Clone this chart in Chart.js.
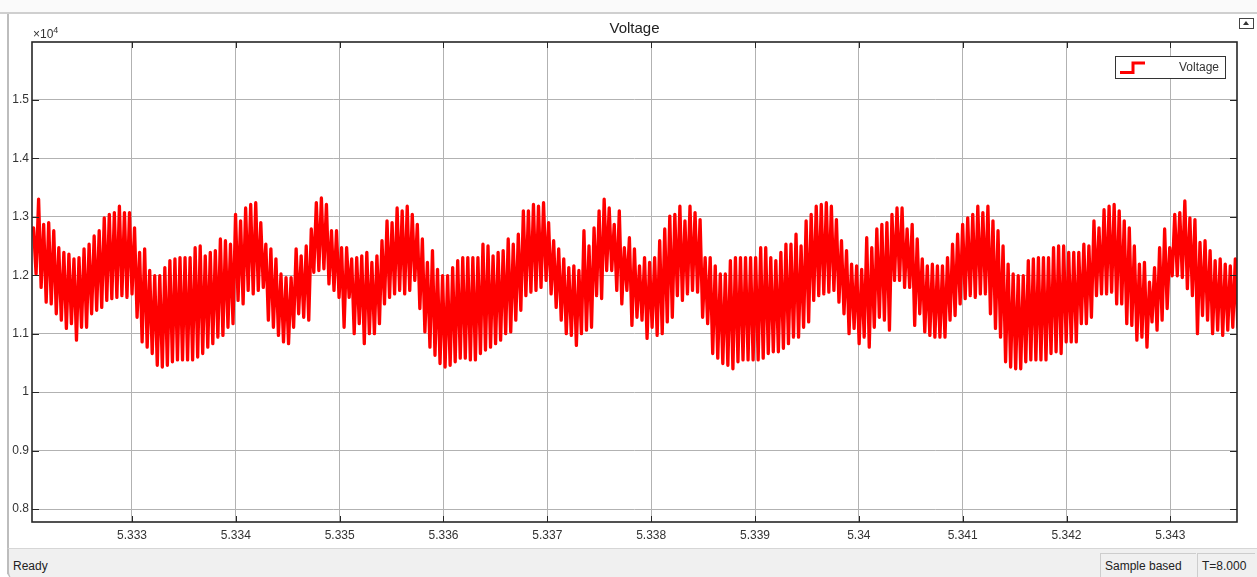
<!DOCTYPE html>
<html>
<head>
<meta charset="utf-8">
<title>Voltage</title>
<script src="https://cdn.jsdelivr.net/npm/chart.js@4.4.1/dist/chart.umd.min.js"></script>
<style>
  html, body { margin: 0; padding: 0; background: #fff; }
  body { width: 1257px; height: 577px; position: relative; overflow: hidden;
         font-family: "Liberation Sans", Arial, sans-serif; color: #222; }
  #wrap { position: absolute; left: 0; top: 0; width: 1257px; height: 548px; }
  #topbar { position: absolute; left: 0; top: 0; width: 1257px; height: 12px;
            background: #fafafa; border-bottom: 2px solid #cfcfcf; z-index: 2; }
  #edge { position: absolute; left: 7px; top: 14px; width: 2px; height: 560px;
          background: #bdbdbd; z-index: 2; }
  #exp { position: absolute; left: 33px; top: 25px; font-size: 12px; color: #333; z-index: 2; }
  #exp sup { font-size: 9px; }
  #undock { position: absolute; left: 1239px; top: 18px; width: 13px; height: 9px;
            border: 1px solid #444; background: #fff; z-index: 2; }
  #undock::after { content: ""; position: absolute; left: 3px; top: 2px;
                   border-left: 3px solid transparent; border-right: 3px solid transparent;
                   border-bottom: 4px solid #333; }
  #status { position: absolute; left: 7px; top: 548px; width: 1250px; height: 29px;
            background: #f0f0f0; border-top: 1px solid #d6d6d6; border-left: 2px solid #bdbdbd;
            border-bottom-left-radius: 6px; font-size: 12px; z-index: 2; }
  #ready { position: absolute; left: 4px; top: 10px; }
  .cell { position: absolute; top: 4px; height: 24px; line-height: 24px; padding-left: 4px;
          border-left: 1px solid #cdcdcd; border-top: 1px solid #cdcdcd; box-sizing: border-box; }
  #sample { left: 1091px; width: 96px; }
  #tcell { left: 1188px; width: 58px; }
</style>
</head>
<body>
<div id="wrap"><canvas id="scope" width="1257" height="548"></canvas></div>
<div id="topbar"></div>
<div id="edge"></div>
<span id="exp">&times;10<sup>4</sup></span>
<div id="undock"></div>
<div id="status">
  <span id="ready">Ready</span>
  <span class="cell" id="sample">Sample based</span>
  <span class="cell" id="tcell">T=8.000</span>
</div>

<script>
// === Оси ===
const chartTitle = 'Voltage';
const xMin = 5.332037, xMax = 5.343642;
const yMin = 7779, yMax = 15988;
const xTicks = [5.333, 5.334, 5.335, 5.336, 5.337, 5.338, 5.339, 5.340, 5.341, 5.342, 5.343];
const xTickLabels = ['5.333', '5.334', '5.335', '5.336', '5.337', '5.338', '5.339', '5.34', '5.341', '5.342', '5.343'];
const yTicks = [8000, 9000, 10000, 11000, 12000, 13000, 14000, 15000];

// === Сигнал: шаг дискретизации и огибающие (В), по одному значению на период ===
const t0 = 5.332052, dt = 0.00004863;

const voltageHigh = [
  12810, 13300, 12870, 12900, 12760, 12470, 12390, 12360, 12280, 12300,
  12450, 12530, 12670, 12760, 12980, 13040, 13070, 13180, 13070, 13070,
  12810, 12390, 12450, 12080, 11990, 11990, 12130, 12250, 12280, 12300,
  12300, 12300, 12470, 12500, 12330, 12390, 12420, 12620, 12590, 12530,
  13040, 12930, 13150, 13210, 13240, 12900, 12530, 12450, 12280, 12020,
  11960, 11960, 12450, 12330,
  12500, 12790, 13240, 13320, 13210, 12760, 12760, 12470, 12470, 12280,
  12300, 12330, 12390, 12220, 12330, 12590, 12930, 12900, 13150, 13100,
  13180, 13040, 12870, 12620, 12220, 12420, 12100, 11990, 11990, 12130,
  12250, 12300, 12300, 12300, 12300, 12530, 12500, 12330, 12390, 12420,
  12620, 12530, 12700, 13100, 13100, 13210, 13180, 13240, 12900, 12590,
  12450, 12280, 12130, 12160, 12080, 12760, 12500, 12810,
  13100, 13300, 13150, 12870, 13100, 12470, 12640, 12450, 12160, 12300,
  12220, 12300, 12590, 12790, 13010, 13040, 13180, 12930, 13180, 13070,
  12950, 12300, 12300, 12160, 12020, 12020, 12250, 12300, 12300, 12300,
  12300, 12300, 12470, 12470, 12300, 12250, 12390, 12530, 12530, 12700,
  12500, 12930, 13040, 13180, 13210, 13240, 13180, 12950, 12590, 12420,
  12190, 12160, 12100, 12640, 12470, 12790, 12870, 12900, 13040, 13150,
  13150, 12790, 12870, 12620, 12280, 12160, 12190, 12160, 12160, 12300,
  12530, 12700, 12870, 12980, 13040, 13180, 13070, 13180, 12930, 12760,
  12500, 12190, 12020, 11990, 11990, 12250, 12280, 12300, 12300, 12300,
  12470, 12500, 12500, 12390, 12390, 12390, 12530, 12500, 12930, 12810,
  13120, 13180, 13210, 13100, 12930, 12810, 12500, 12190, 12220, 11880,
  12130, 12470, 12790, 12470, 13040, 13070, 13270, 12980, 12950, 12560,
  12590, 12420, 12250, 12280, 12190, 12160, 12280
];

const voltageLow = [
  12020, 11790, 11540, 11510, 11340, 11230, 11090, 11170, 10890, 11110,
  11110, 11340, 11400, 11450, 11570, 11600, 11620, 11650, 11620, 11680,
  11280, 10860, 10770, 10660, 10460, 10430, 10460, 10520, 10550, 10550,
  10550, 10550, 10600, 10660, 10770, 10830, 10940, 10970, 11110, 11170,
  11570, 11510, 11740, 11680, 11740, 11790, 11230, 11110, 10970, 10860,
  10830, 11110, 11340, 11280,
  11230, 12050, 12080, 12110, 11850, 11740, 11620, 11110, 11620, 11000,
  11170, 10830, 11000, 11000, 11170, 11510, 11620, 11680, 11740, 11680,
  11740, 11910, 11430, 11030, 10770, 10630, 10490, 10430, 10460, 10520,
  10580, 10580, 10550, 10550, 10660, 10720, 10770, 10830, 10890, 11000,
  11030, 11230, 11400, 11650, 11710, 11740, 11790, 11910, 11680, 11450,
  11230, 11000, 10970, 10800, 11000, 11060, 11110, 11650,
  11600, 12080, 12080, 11740, 11510, 11740, 11140, 11280, 11230, 10920,
  11110, 10970, 11000, 11200, 11280, 11650, 11570, 11680, 11740, 11710,
  11280, 11170, 10660, 10580, 10490, 10460, 10400, 10520, 10550, 10550,
  10550, 10550, 10580, 10660, 10690, 10690, 10750, 10830, 10940, 10940,
  11110, 11200, 11570, 11650, 11680, 11710, 11740, 11540, 11340, 11000,
  11090, 10830, 10940, 10770, 11110, 11280, 11230, 11060, 11910, 11910,
  11790, 11790, 11140, 11340, 11030, 10970, 10940, 10940, 10940, 11230,
  11310, 11510, 11600, 11650, 11620, 11680, 11680, 11340, 11090, 10940,
  10520, 10430, 10400, 10400, 10520, 10550, 10550, 10550, 10550, 10660,
  10690, 10660, 10860, 10860, 10860, 11170, 11170, 11280, 11650, 11680,
  11680, 11710, 11510, 11510, 11170, 11140, 10890, 10940, 10770, 11200,
  11060, 11230, 11430, 11990, 11990, 11960, 11770, 11650, 11000, 11310,
  11230, 11000, 11060, 10970, 11060, 11110, 11110
];

// верх и низ каждого периода по очереди
const points = [];
voltageHigh.forEach((v, i) => {
  points.push({ x: t0 + i * dt, y: v });
  points.push({ x: t0 + (i + 0.5) * dt, y: voltageLow[i] });
});

// === Рамка осей, внутренние засечки, заголовок и легенда в стиле Scope ===
const scopeFrame = {
  id: 'scopeFrame',
  afterDraw(chart) {
    const { ctx, chartArea: a, scales } = chart;
    ctx.save();
    ctx.strokeStyle = '#262626';
    ctx.lineWidth = 1;
    ctx.beginPath();
    xTicks.forEach(v => {
      const px = Math.round(scales.x.getPixelForValue(v)) + 0.5;
      ctx.moveTo(px, a.bottom); ctx.lineTo(px, a.bottom - 6);
      ctx.moveTo(px, a.top); ctx.lineTo(px, a.top + 6);
    });
    yTicks.forEach(v => {
      const py = Math.round(scales.y.getPixelForValue(v)) + 0.5;
      ctx.moveTo(a.left, py); ctx.lineTo(a.left + 7, py);
      ctx.moveTo(a.right, py); ctx.lineTo(a.right - 7, py);
    });
    ctx.stroke();
    ctx.lineWidth = 1.6;
    ctx.strokeRect(a.left, a.top, a.right - a.left, a.bottom - a.top);

    // заголовок по центру области построения
    ctx.fillStyle = '#222';
    ctx.font = '15px "Liberation Sans", Arial, sans-serif';
    ctx.textAlign = 'center';
    ctx.textBaseline = 'middle';
    ctx.fillText(chartTitle, (a.left + a.right) / 2, a.top - 13);

    // легенда
    const w = 110, h = 22;
    const lx = a.right - 12 - w, ly = a.top + 14;
    ctx.fillStyle = '#fff';
    ctx.fillRect(lx, ly, w, h);
    ctx.lineWidth = 1;
    ctx.strokeStyle = '#333';
    ctx.strokeRect(lx + 0.5, ly + 0.5, w, h);
    ctx.strokeStyle = '#ff0000';
    ctx.lineWidth = 3;
    ctx.beginPath();
    ctx.moveTo(lx + 5, ly + 16.5);
    ctx.lineTo(lx + 18, ly + 16.5);
    ctx.lineTo(lx + 18, ly + 7);
    ctx.lineTo(lx + 30, ly + 7);
    ctx.stroke();
    ctx.fillStyle = '#333';
    ctx.font = '12px "Liberation Sans", Arial, sans-serif';
    ctx.textAlign = 'right';
    ctx.fillText(chart.data.datasets[0].label, lx + w - 6, ly + h / 2 + 1);
    ctx.restore();
  }
};

Chart.defaults.font.family = '"Liberation Sans", Arial, sans-serif';
Chart.defaults.font.size = 12;
Chart.defaults.color = '#333';

new Chart(document.getElementById('scope'), {
  type: 'line',
  data: {
    datasets: [{
      label: 'Voltage',
      data: points,
      borderColor: '#ff0000',
      borderWidth: 3.3,
      borderJoinStyle: 'round',
      borderCapStyle: 'round',
      pointRadius: 0,
      tension: 0,
      fill: false
    }]
  },
  options: {
    responsive: false,
    animation: false,
    events: [],
    layout: { padding: { top: 42, right: 20, bottom: 0, left: 0 } },
    plugins: {
      legend: { display: false },
      tooltip: { enabled: false },
      title: { display: false }
    },
    scales: {
      x: {
        type: 'linear',
        min: xMin,
        max: xMax,
        afterFit: s => { s.height = 26; },
        afterBuildTicks: s => { s.ticks = xTicks.map(v => ({ value: v })); },
        grid: { color: '#b2b2b2', drawTicks: false },
        border: { display: false },
        ticks: {
          padding: 6,
          maxRotation: 0,
          autoSkip: false,
          callback: v => xTickLabels[xTicks.findIndex(t => Math.abs(t - v) < 1e-7)]
        }
      },
      y: {
        type: 'linear',
        min: yMin,
        max: yMax,
        afterFit: s => { s.width = 32; },
        afterBuildTicks: s => { s.ticks = yTicks.map(v => ({ value: v })); },
        grid: { color: '#b2b2b2', drawTicks: false },
        border: { display: false },
        ticks: {
          padding: 3,
          callback: v => String(+(v / 1e4).toFixed(1))
        }
      }
    }
  },
  plugins: [scopeFrame]
});
</script>
</body>
</html>
